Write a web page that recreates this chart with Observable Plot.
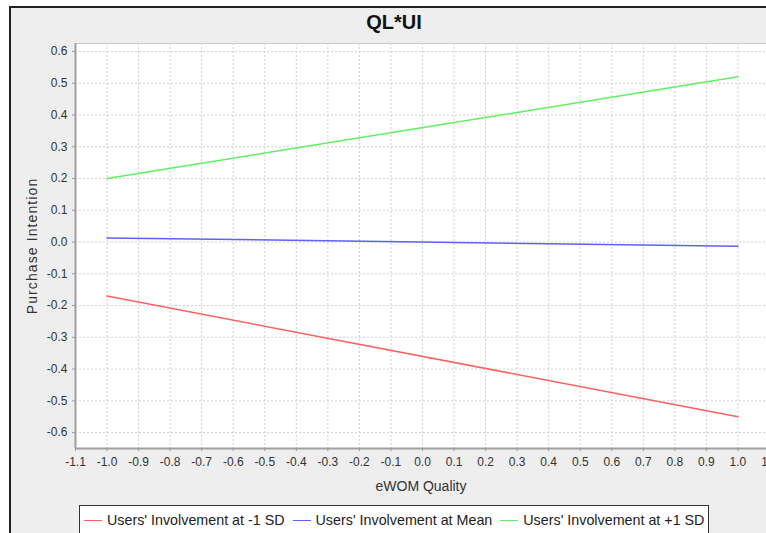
<!DOCTYPE html>
<html>
<head>
<meta charset="utf-8">
<script src="https://cdn.jsdelivr.net/npm/d3@7"></script>
<script src="https://cdn.jsdelivr.net/npm/@observablehq/plot@0.6"></script>
<style>
  html, body { margin: 0; padding: 0; background: white; width: 766px; height: 533px; overflow: hidden; }
  #frame { position: absolute; left: 9px; top: 6px; width: 800px; height: 600px; background: #eeeeee; border-left: 2px solid #222; border-top: 2px solid #222; box-sizing: border-box; }
  #chart { position: absolute; left: 0; top: 0; }
  #title { position: absolute; left: 0; top: 11px; width: 788px; text-align: center; font: bold 20px "Liberation Sans", Arial, sans-serif; color: #111; }
  #legend { position: absolute; left: 79px; top: 505px; height: 40px; border: 1px solid #333; background: white; box-sizing: border-box; padding: 3px 4px 0 4px; font: 14.3px "Liberation Sans", Arial, sans-serif; color: #222; white-space: nowrap; display: flex; }
  .item { display: flex; align-items: center; margin-right: 8px; height: 22px; }
  .item:last-child { margin-right: 0; }
  .sw { width: 18px; height: 0; border-top: 1.5px solid; margin-right: 5px; }
  .ylab { letter-spacing: 1.1px; }
</style>
</head>
<body>
<div id="frame"></div>
<div id="chart"></div>
<div id="title"></div>
<div id="legend"></div>
<script>
const title = "QL*UI";
const xLabel = "eWOM Quality";
const yLabel = "Purchase Intention";
const seriesNames = ["Users' Involvement at -1 SD", "Users' Involvement at Mean", "Users' Involvement at +1 SD"];
const seriesColors = ["#ff6060", "#6060ff", "#60f060"];
const xValues = [-1.0, 1.0];
const lowValues = [-0.17, -0.55];
const meanValues = [0.013, -0.013];
const highValues = [0.20, 0.52];
const xTicks = [-1.1, -1.0, -0.9, -0.8, -0.7, -0.6, -0.5, -0.4, -0.3, -0.2, -0.1, 0.0, 0.1, 0.2, 0.3, 0.4, 0.5, 0.6, 0.7, 0.8, 0.9, 1.0, 1.1];
const yTicks = [-0.6, -0.5, -0.4, -0.3, -0.2, -0.1, 0.0, 0.1, 0.2, 0.3, 0.4, 0.5, 0.6];
const xDomain = [-1.1, 1.1];
const yDomain = [-0.65, 0.625];

const allSeries = [lowValues, meanValues, highValues];
const data = [];
allSeries.forEach((vals, i) => vals.forEach((v, j) => data.push({series: seriesNames[i], x: xValues[j], y: v})));

const fmt = d => d.toFixed(1);
const font = '"Liberation Sans", Arial, sans-serif';

const chart = Plot.plot({
  width: 766,
  height: 533,
  marginLeft: 75,
  marginTop: 43,
  marginBottom: 85,
  marginRight: 0,
  style: { background: "transparent", fontFamily: font, overflow: "visible" },
  x: { domain: xDomain, range: [75, 769] },
  y: { domain: yDomain, range: [448, 43] },
  color: { domain: seriesNames, range: seriesColors },
  marks: [
    Plot.frame({ fill: "white", stroke: "#c8c8c8" }),
    Plot.gridX({ ticks: xTicks, stroke: "#d0d0d0", strokeOpacity: 1, strokeDasharray: "2,2" }),
    Plot.gridY({ ticks: yTicks, stroke: "#d0d0d0", strokeOpacity: 1, strokeDasharray: "2,2" }),
    Plot.line(data, { x: "x", y: "y", z: "series", stroke: "series", strokeWidth: 1.5 }),
    Plot.ruleY([yDomain[0]], { stroke: "#a0a0a0", strokeWidth: 2 }),
    Plot.ruleX([xDomain[0]], { stroke: "#a0a0a0", strokeWidth: 2 }),
    Plot.axisX({ ticks: xTicks, tickFormat: fmt, tickSize: 3, tickPadding: 6, fontSize: 12, stroke: "#999", fill: "#333", label: null }),
    Plot.axisY({ ticks: yTicks, tickFormat: fmt, tickSize: 3, tickPadding: 5, fontSize: 12, stroke: "#999", fill: "#333", label: null }),
    Plot.text([xLabel], { text: d => d, frameAnchor: "bottom", lineAnchor: "middle", textAnchor: "middle", dy: 38, fontSize: 14, fill: "#333" }),
    Plot.text([yLabel], { text: d => d, frameAnchor: "left", textAnchor: "middle", lineAnchor: "middle", dx: -43, rotate: -90, fontSize: 14, fill: "#333", className: "ylab" })
  ]
});
document.getElementById("chart").appendChild(chart);
chart.querySelectorAll("text").forEach(t => { if (t.textContent === yLabel) t.setAttribute("letter-spacing", "1.1"); });
document.getElementById("title").textContent = title;

const legend = document.getElementById("legend");
seriesNames.forEach((name, i) => {
  const item = document.createElement("div");
  item.className = "item";
  const sw = document.createElement("div");
  sw.className = "sw";
  sw.style.borderColor = seriesColors[i];
  const t = document.createElement("span");
  t.textContent = name;
  item.appendChild(sw);
  item.appendChild(t);
  legend.appendChild(item);
});
</script>
</body>
</html>
